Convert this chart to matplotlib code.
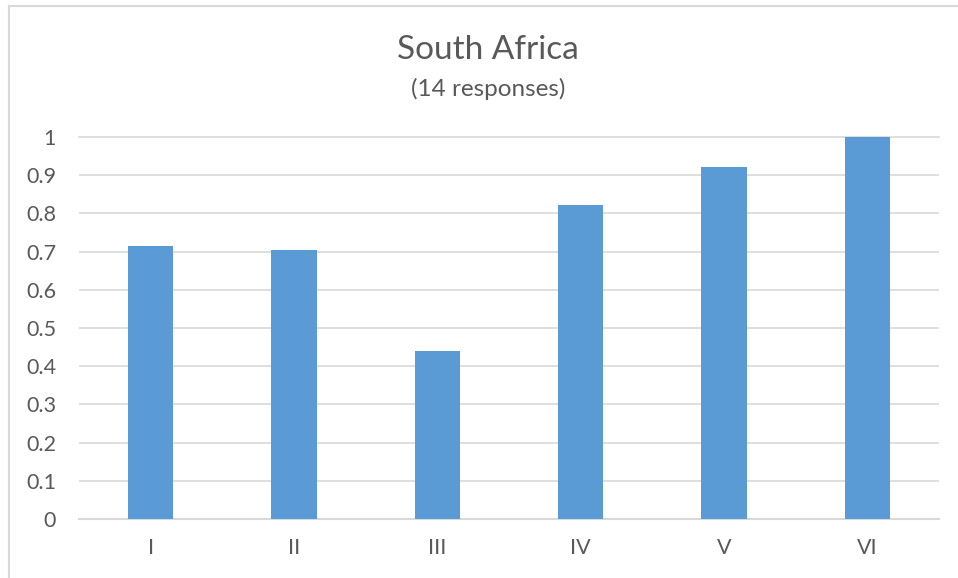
import matplotlib
matplotlib.use("Agg")
import matplotlib.pyplot as plt
from matplotlib.lines import Line2D

categories = ["I", "II", "III", "IV", "V", "VI"]
values = [0.714, 0.705, 0.44, 0.822, 0.921, 1.0]
yticks = [0, 0.1, 0.2, 0.3, 0.4, 0.5, 0.6, 0.7, 0.8, 0.9, 1]
ytick_labels = ["0", "0.1", "0.2", "0.3", "0.4", "0.5", "0.6", "0.7", "0.8", "0.9", "1"]

plt.rcParams['font.family'] = ['Lato', 'DejaVu Sans']

W, H = 958, 578
fig = plt.figure(figsize=(W / 100, H / 100), dpi=100)
ax = fig.add_axes([79 / W, 59 / H, 860 / W, 382 / H])

x = list(range(len(categories)))
ax.bar(x, values, width=0.314, color="#5b9bd5", zorder=3)
ax.set_xlim(-0.5, len(categories) - 0.5)
ax.set_ylim(0, 1)
ax.set_yticks(yticks)
ax.set_yticklabels(ytick_labels)
ax.set_xticks(x)
ax.set_xticklabels(categories)
ax.grid(axis="y", color="#d9d9d9", linewidth=1.2, zorder=0)
ax.set_axisbelow(True)
for s in ["top", "right", "left"]:
    ax.spines[s].set_visible(False)
ax.spines["bottom"].set_color("#d9d9d9")
ax.spines["bottom"].set_linewidth(1.5)
ax.tick_params(axis="both", length=0, labelsize=15.5, labelcolor="#595959")
ax.tick_params(axis="y", pad=16.5)
ax.tick_params(axis="x", pad=14)
ax.yaxis.get_gridlines()[-1].set_clip_on(False)

fig.text(488 / W, 1 - 50 / H, "South Africa", ha="center", va="center",
         fontsize=24, color="#595959")
fig.text(488 / W, 1 - 89 / H, "(14 responses)", ha="center", va="center",
         fontsize=17.5, color="#595959")

# chart border
fig.add_artist(Line2D([8.5 / W, 8.5 / W], [0, 1 - 5.5 / H], transform=fig.transFigure,
                      color="#d9d9d9", linewidth=1.5))
fig.add_artist(Line2D([8.5 / W, 1], [1 - 5.5 / H, 1 - 5.5 / H], transform=fig.transFigure,
                      color="#d9d9d9", linewidth=1.5))

fig.savefig("out.png", dpi=100)
